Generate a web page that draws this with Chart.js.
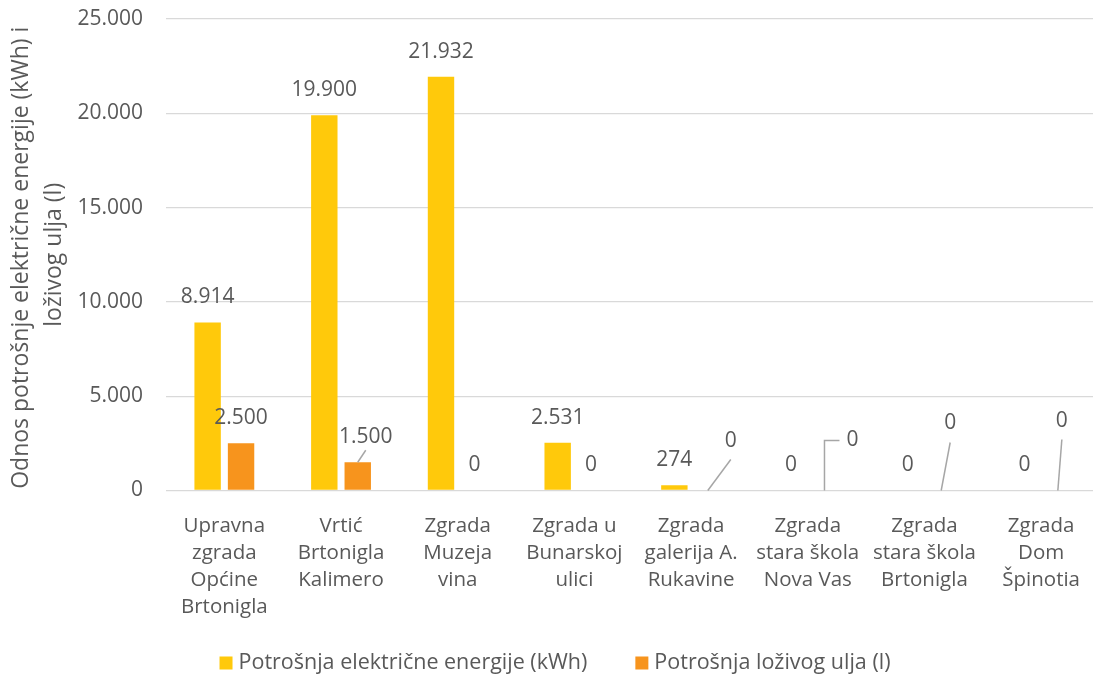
<!DOCTYPE html>
<html lang="hr">
<head>
<meta charset="utf-8">
<title>Potrošnja energije po zgradama</title>
<script src="https://cdn.jsdelivr.net/npm/chart.js@4"></script>
<style>
  html, body { margin: 0; padding: 0; background: #fff; overflow: hidden; }
  #wrap { width: 1102px; height: 675px; }
</style>
</head>
<body>
<div id="wrap"><canvas id="grafikon" width="1102" height="675"></canvas></div>
<script>
/* ============================================================
PODACI
============================================================ */

const zgrade = [
  ["Upravna", "zgrada", "Općine", "Brtonigla"],
  ["Vrtić", "Brtonigla", "Kalimero"],
  ["Zgrada", "Muzeja", "vina"],
  ["Zgrada u", "Bunarskoj", "ulici"],
  ["Zgrada", "galerija A.", "Rukavine"],
  ["Zgrada", "stara škola", "Nova Vas"],
  ["Zgrada", "stara škola", "Brtonigla"],
  ["Zgrada", "Dom", "Špinotia"],
];

const struja = [8914, 19900, 21932, 2531, 274, 0, 0, 0];
const lozUlje = [2500, 1500, 0, 0, 0, 0, 0, 0];

const yTicks = [0, 5000, 10000, 15000, 20000, 25000];

/* pomaknute oznake (Excel vodilice): indeks -> [dx, dy, tip, kraj] */
const pomakUlje = {
  1: [8, 0, "ravno", 13],
  4: [23, -24, "ravno", 18],
  5: [28, -25, "lakat", 13],
  6: [9, -42, "ravno", 19],
  7: [4, -44, "ravno", 18],
};

const SIVA = "#595959";
const FONT = "'Open Sans', sans-serif";

function formatBroj(v) {
  return String(v).replace(/\B(?=(\d{3})+(?!\d))/g, ".");
}

/* ============================================================
PLUGIN OZNAKE VRIJEDNOSTI
============================================================ */

const oznakePlugin = {
  id: "oznake",
  afterDatasetsDraw(chart) {
    const ctx = chart.ctx;
    ctx.save();
    ctx.font = "21px " + FONT;
    ctx.textAlign = "center";
    ctx.textBaseline = "middle";

    chart.data.datasets.forEach((ds, di) => {
      const meta = chart.getDatasetMeta(di);
      meta.data.forEach((bar, i) => {
        let x = bar.x;
        let y = bar.y - 25;
        const p = di === 1 ? pomakUlje[i] : null;

        if (p) {
          x += p[0];
          y += p[1];
          ctx.strokeStyle = "#A6A6A6";
          ctx.lineWidth = 1.5;
          ctx.beginPath();
          ctx.moveTo(bar.x, bar.y);
          if (p[2] === "lakat") {
            ctx.lineTo(bar.x, y);
            ctx.lineTo(x - p[3], y);
          } else {
            ctx.lineTo(x, y + p[3]);
          }
          ctx.stroke();
        }

        ctx.fillStyle = SIVA;
        ctx.fillText(formatBroj(ds.data[i]), x, y);
      });
    });

    ctx.restore();
  },
};

/* ============================================================
PLUGIN LEGENDA (dolje)
============================================================ */

const legendaPlugin = {
  id: "legenda",
  afterDraw(chart) {
    const ctx = chart.ctx;
    const sredina = 555;
    const yL = 663;
    const kvadrat = 13;
    const razmak = 6;
    const izmedju = 48;

    ctx.save();
    ctx.font = "21.5px " + FONT;
    ctx.textBaseline = "middle";

    const stavke = chart.data.datasets.map((ds) => ({
      tekst: ds.label,
      boja: ds.backgroundColor,
      w: ctx.measureText(ds.label).width,
    }));

    let ukupno = 0;
    stavke.forEach((s, i) => {
      ukupno += kvadrat + razmak + s.w + (i > 0 ? izmedju : 0);
    });

    let x = sredina - ukupno / 2;
    stavke.forEach((s) => {
      ctx.fillStyle = s.boja;
      ctx.fillRect(x, yL - kvadrat / 2, kvadrat, kvadrat);
      ctx.fillStyle = SIVA;
      ctx.textAlign = "left";
      ctx.fillText(s.tekst, x + kvadrat + razmak, yL);
      x += kvadrat + razmak + s.w + izmedju;
    });

    ctx.restore();
  },
};

/* ============================================================
GRAFIKON
============================================================ */

new Chart(document.getElementById("grafikon"), {
  type: "bar",
  data: {
    labels: zgrade,
    datasets: [
      {
        label: "Potrošnja električne energije (kWh)",
        data: struja,
        backgroundColor: "#FFC90B",
        categoryPercentage: 0.573,
        barPercentage: 0.79,
      },
      {
        label: "Potrošnja loživog ulja (l)",
        data: lozUlje,
        backgroundColor: "#F7941D",
        categoryPercentage: 0.573,
        barPercentage: 0.79,
      },
    ],
  },
  options: {
    responsive: false,
    animation: false,
    devicePixelRatio: 1,
    layout: { padding: { top: 19, left: 0, right: 0, bottom: 0 } },
    plugins: {
      legend: { display: false },
      tooltip: { enabled: false },
    },
    scales: {
      x: {
        grid: { display: false, drawTicks: false },
        border: { display: false },
        ticks: {
          color: SIVA,
          padding: 22,
          maxRotation: 0,
          autoSkip: false,
          font: { family: FONT, size: 20.5, lineHeight: 1.32 },
        },
        afterFit(scale) {
          scale.height = 184.5;
        },
      },
      y: {
        min: 0,
        max: 25000,
        grid: {
          color: "#D9D9D9",
          lineWidth: 1.3,
          drawTicks: true,
          tickLength: 21,
          tickColor: "rgba(0,0,0,0)",
          tickWidth: 0,
        },
        border: { display: false },
        afterBuildTicks(scale) {
          scale.ticks = yTicks.map((v) => ({ value: v }));
        },
        ticks: {
          color: SIVA,
          padding: 2,
          font: { family: FONT, size: 21 },
          callback: (v) => formatBroj(v),
        },
        title: {
          display: true,
          text: ["Odnos potrošnje električne energije (kWh) i ", "loživog ulja (l)"],
          color: SIVA,
          padding: { top: 5, bottom: 0 },
          font: { family: FONT, size: 23, lineHeight: 1.43 },
        },
        afterFit(scale) {
          scale.width = 166;
        },
      },
    },
  },
  plugins: [oznakePlugin, legendaPlugin],
});
</script>
</body>
</html>
